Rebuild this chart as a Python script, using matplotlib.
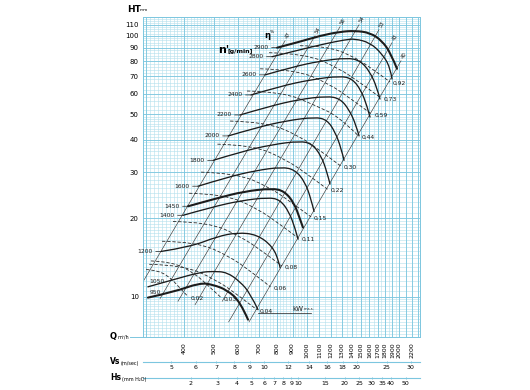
import numpy as np
import matplotlib.pyplot as plt
import matplotlib.ticker as mticker
from matplotlib.lines import Line2D
from matplotlib.path import Path
from matplotlib.patches import PathPatch

plt.rcParams['font.family'] = ['Liberation Sans Narrow', 'DejaVu Sans']
plt.rcParams['font.size'] = 5

# speed curves  n' [g/min] : Q [m3/h], HT [mm]
n2900_q = [802, 952, 1106, 1284, 1436, 1607, 1757, 1880, 1966]
n2900_h = [90.0, 94.9, 100.0, 103.6, 104.5, 102.7, 95.7, 85.3, 74.7]
n2800_q = [772, 952, 1148, 1333, 1436, 1607, 1757, 1866, 1894]
n2800_h = [83.1, 88.4, 93.2, 96.5, 97.4, 94.0, 85.3, 76.0, 68.3]
n2600_q = [733, 897, 1106, 1353, 1491, 1607, 1693, 1731]
n2600_h = [70.8, 75.8, 80.0, 82.3, 80.4, 72.7, 63.1, 57.2]
n2400_q = [660, 820, 1034, 1284, 1405, 1502, 1571, 1607]
n2400_h = [59.3, 64.0, 67.9, 70.1, 68.5, 61.9, 53.8, 48.8]
n2200_q = [608, 755, 938, 1165, 1284, 1374, 1447, 1480]
n2200_h = [49.7, 53.6, 56.9, 58.7, 57.4, 52.1, 45.5, 41.3]
n2000_q = [556, 690, 857, 1065, 1165, 1237, 1294, 1323]
n2000_h = [41.3, 44.5, 47.2, 48.8, 47.6, 42.8, 37.1, 33.3]
n1800_q = [497, 617, 767, 952, 1041, 1114, 1165, 1191]
n1800_h = [33.3, 36.0, 38.2, 39.5, 38.5, 34.7, 30.0, 27.0]
n1600_q = [444, 548, 680, 832, 917, 988, 1034, 1057]
n1600_h = [26.5, 28.6, 30.4, 31.4, 30.6, 27.5, 23.6, 21.2]
n1450_q = [412, 509, 626, 772, 845, 910, 952, 973]
n1450_h = [22.2, 23.8, 25.3, 26.0, 25.4, 22.9, 19.8, 18.4]
n1400_q = [397, 490, 608, 750, 820, 877, 917, 938]
n1400_h = [20.5, 22.0, 23.3, 24.0, 23.5, 21.1, 18.3, 16.6]
n1200_q = [337, 418, 513, 595, 690, 778, 814, 820]
n1200_h = [14.9, 15.5, 17.0, 17.6, 17.3, 15.5, 13.5, 12.9]
n1050_q = [305, 368, 451, 497, 551, 608, 655, 695]
n1050_h = [10.9, 11.6, 12.4, 12.5, 12.4, 11.4, 10.3, 8.91]
n950_q = [305, 368, 451, 497, 551, 608, 645]
n950_h = [9.91, 10.4, 11.3, 11.1, 10.6, 9.57, 8.16]

speeds = [2900, 2800, 2600, 2400, 2200, 2000, 1800, 1600, 1450, 1400, 1200, 1050, 950]
speed_q = [n2900_q, n2800_q, n2600_q, n2400_q, n2200_q, n2000_q, n1800_q,
           n1600_q, n1450_q, n1400_q, n1200_q, n1050_q, n950_q]
speed_h = [n2900_h, n2800_h, n2600_h, n2400_h, n2200_h, n2000_h, n1800_h,
           n1600_h, n1450_h, n1400_h, n1200_h, n1050_h, n950_h]
thick = [2900, 1450, 950]

# absorbed power lines (dashed), kW
kw092_q = [952, 1148, 1384, 1619, 1866]
kw092_h = [91.6, 91.2, 84.6, 75.4, 66.5]
kw073_q = [755, 988, 1265, 1513, 1744]
kw073_h = [86.1, 85.4, 75.4, 65.4, 57.7]
kw059_q = [706, 924, 1182, 1410, 1625]
kw059_h = [74.7, 74.1, 65.5, 56.7, 50.1]
kw044_q = [640, 839, 1073, 1279, 1474]
kw044_h = [61.4, 60.9, 53.9, 48.8, 41.3]
kw030_q = [564, 737, 944, 1123, 1294]
kw030_h = [47.1, 46.7, 41.4, 35.8, 31.6]
kw022_q = [513, 667, 854, 1016, 1169]
kw022_h = [38.4, 38.1, 33.6, 29.2, 25.8]
kw015_q = [454, 591, 756, 899, 1034]
kw015_h = [30.0, 29.7, 26.3, 22.8, 20.2]
kw011_q = [415, 540, 690, 820, 941]
kw011_h = [24.9, 24.7, 21.8, 18.9, 16.75]
kw008_q = [368, 479, 611, 725, 832]
kw008_h = [19.4, 19.3, 17.0, 14.8, 13.1]
kw006_q = [339, 440, 560, 664, 763]
kw006_h = [16.3, 16.2, 14.3, 12.4, 10.9]
kw004_q = [308, 398, 508, 601, 689]
kw004_h = [13.3, 13.2, 11.6, 10.1, 8.91]
kw003_q = [312, 366, 432, 483, 528]
kw003_h = [13.7, 13.6, 12.3, 10.9, 9.9]
kw002_q = [301, 331, 364, 388, 412]
kw002_h = [12.7, 12.6, 11.7, 10.75, 10.0]

kw_labels = ['0,92', '0,73', '0,59', '0,44', '0,30', '0,22', '0,15',
             '0,11', '0,08', '0,06', '0,04', '0,03', '0,02']
kw_q = [kw092_q, kw073_q, kw059_q, kw044_q, kw030_q, kw022_q, kw015_q,
        kw011_q, kw008_q, kw006_q, kw004_q, kw003_q, kw002_q]
kw_h = [kw092_h, kw073_h, kw059_h, kw044_h, kw030_h, kw022_h, kw015_h,
        kw011_h, kw008_h, kw006_h, kw004_h, kw003_h, kw002_h]
kw_base_q = [695, 1030]
kw_base_h = [8.67, 8.67]

# efficiency lines (H ~ Q^2)
eta_labels = ['47', '54', '56', '54', '53', '43', '40']
eta_top_q = [851, 1065, 1284, 1480, 1718, 1894, 2026]
eta_top_h = [95.7, 100.0, 108.3, 110.2, 105.5, 94.0, 80.2]
eta_bot_q = [294, 334, 382, 434, 532, 558, 650]
eta_bot_h = [11.4, 9.83, 9.6, 9.31, 9.6, 8.0, 8.0]

q_ticks = [400, 500, 600, 700, 800, 900, 1000, 1100, 1200, 1300, 1400,
           1500, 1600, 1700, 1800, 1900, 2000, 2200]
h_ticks = [10, 20, 30, 40, 50, 60, 70, 80, 90, 100, 110]
vs_ticks = [5, 6, 7, 8, 9, 10, 12, 14, 16, 18, 20, 25, 30]
hs_ticks = [2, 3, 4, 5, 6, 7, 8, 9, 10, 15, 20, 25, 30, 35, 40, 50]
q_per_vs = 72.7   # m3/h per m/s at outlet
q_hs1 = 297.0     # Q where Hs = 1 mm

W, H = 530, 390
fig = plt.figure(figsize=(W / 100, H / 100), dpi=100)
fig.patch.set_facecolor('white')
ax = fig.add_axes([143 / W, 1 - 337 / H, 277 / W, 320 / H])
ax.set_xscale('log')
ax.set_yscale('log')
ax.set_xlim(294, 2335)
ax.set_ylim(7.0, 118)

c_thin = '#b2dfed'
c_major = '#7cc6df'
ink = '#1c1c1c'


def smooth(q, h, **kw):
    # quadratic bezier through the midpoints (geometric, as both axes are log)
    q = np.asarray(q, float)
    h = np.asarray(h, float)
    verts = [(q[0], h[0])]
    codes = [Path.MOVETO]
    for i in range(1, len(q) - 1):
        if i == len(q) - 2:
            end = (q[-1], h[-1])
        else:
            end = (np.sqrt(q[i] * q[i + 1]), np.sqrt(h[i] * h[i + 1]))
        verts += [(q[i], h[i]), end]
        codes += [Path.CURVE3, Path.CURVE3]
    ax.add_patch(PathPatch(Path(verts, codes), fill=False, **kw))


# graph paper
qg = np.concatenate([np.arange(300, 500, 10), np.arange(500, 1000, 20),
                     np.arange(1000, 2000, 50), np.arange(2000, 2400, 100)])
hg = np.concatenate([np.arange(7, 10, 0.2), np.arange(10, 20, 0.5),
                     np.arange(20, 50, 1), np.arange(50, 120, 2)])
ax.vlines(qg, 7.0, 118, color=c_thin, lw=0.4, zorder=0)
ax.hlines(hg, 294, 2335, color=c_thin, lw=0.4, zorder=0)
ax.vlines(np.arange(300, 2400, 100), 7.0, 118, color=c_major, lw=0.6, zorder=0)
ax.hlines(h_ticks, 294, 2335, color=c_major, lw=0.6, zorder=0)
for s in ax.spines.values():
    s.set_color(c_major)
    s.set_linewidth(0.7)

ax.set_yticks(h_ticks, labels=[str(v) for v in h_ticks])
ax.yaxis.set_minor_locator(mticker.NullLocator())
ax.xaxis.set_minor_locator(mticker.NullLocator())
ax.set_xticks(q_ticks, labels=[str(v) for v in q_ticks])
ax.tick_params(axis='y', length=0, pad=3, labelsize=5)
ax.tick_params(axis='x', length=0, pad=4, labelsize=4.5, labelrotation=90)

# efficiency lines
for lbl, q0, h0, q1, h1 in zip(eta_labels, eta_top_q, eta_top_h, eta_bot_q, eta_bot_h):
    ax.plot([q1, q0], [h1, h0], color='#3a3a3a', lw=0.45, zorder=2)
    ax.annotate(lbl, (q0, h0), xytext=(2, 4), textcoords='offset points',
                rotation=60, fontsize=3.8, ha='center', va='center', color=ink)

# power lines
for lbl, q, h in zip(kw_labels, kw_q, kw_h):
    smooth(q, h, edgecolor='#2a2a2a', lw=0.6, ls=(0, (4, 2.2)), zorder=3)
    ax.annotate(lbl, (q[-1], h[-1]), xytext=(2, -1), textcoords='offset points',
                fontsize=4.3, ha='left', va='center', color=ink)
ax.plot(kw_base_q, kw_base_h, color=ink, lw=0.5, zorder=3)
ax.annotate('kW', (kw_base_q[1], kw_base_h[1]), xytext=(-13, 3), textcoords='offset points',
            fontsize=5, ha='left', va='center', color=ink)
ax.annotate('m.s.s.', (kw_base_q[1], kw_base_h[1]), xytext=(-5, 2.5), textcoords='offset points',
            fontsize=2.6, ha='left', va='center', color=ink)

# speed curves
for n, q, h in zip(speeds, speed_q, speed_h):
    smooth(q, h, edgecolor=ink, lw=1.5 if n in thick else 0.95, zorder=4,
           capstyle='round', joinstyle='round')
    if n in (1050, 950):
        ax.annotate(str(n), (q[0], h[0]), xytext=(1, 4), textcoords='offset points',
                    fontsize=4.3, ha='left', va='center', color=ink)
    else:
        ax.annotate(str(n), (q[0], h[0]), xytext=(-6, 0), textcoords='offset points',
                    fontsize=4.3, ha='right', va='center', color=ink,
                    arrowprops=dict(arrowstyle='-', lw=0.5, color=ink, shrinkA=0, shrinkB=0))

# secondary scales below
secv = ax.secondary_xaxis(-25 / 320, functions=(lambda q: q / q_per_vs, lambda v: v * q_per_vs))
secv.set_xticks(vs_ticks, labels=[str(v) for v in vs_ticks])
sech = ax.secondary_xaxis(-41 / 320, functions=(lambda q: (q / q_hs1) ** 2,
                                                lambda s: q_hs1 * np.sqrt(np.abs(s))))
sech.set_xticks(hs_ticks, labels=[str(v) for v in hs_ticks])
for sec in (secv, sech):
    sec.xaxis.set_minor_locator(mticker.NullLocator())
    sec.xaxis.set_minor_formatter(mticker.NullFormatter())
    sec.spines['bottom'].set_color(c_major)
    sec.spines['bottom'].set_linewidth(0.8)
    sec.tick_params(axis='x', length=2, width=0.5, color='#5aa9c6', direction='inout',
                    pad=1.5, labelsize=4.5)

fig.add_artist(Line2D([130 / W, 143 / W], [1 - 337 / H] * 2, color=c_major, lw=0.7))


# texts
def fx(px):
    return px / W


def fy(py):
    return 1 - py / H


fig.text(fx(127), fy(9), 'HT', fontsize=6.5, fontweight='bold', va='center')
fig.text(fx(140), fy(10), 'mm', fontsize=3.2, va='center')
fig.text(fx(264), fy(35), 'η', fontsize=6, fontweight='bold', va='center')
fig.text(fx(270), fy(32), '%', fontsize=3.2, va='center')
fig.text(fx(218), fy(50), "n'", fontsize=8, fontweight='bold', va='center')
fig.text(fx(227), fy(52), '[g/min]', fontsize=4.5, fontweight='bold', va='center')
fig.text(fx(110), fy(337), 'Q', fontsize=6, fontweight='bold', va='center')
fig.text(fx(118), fy(337), 'm³/h', fontsize=3.5, va='center')
fig.text(fx(110), fy(362), 'Vs', fontsize=5.5, fontweight='bold', va='center')
fig.text(fx(121), fy(363), '(m/sec)', fontsize=3.5, va='center')
fig.text(fx(110), fy(378), 'Hs', fontsize=5.5, fontweight='bold', va='center')
fig.text(fx(122), fy(379), '(mm H₂O)', fontsize=3.5, va='center')

fig.savefig('out.png', dpi=100, facecolor='white')
